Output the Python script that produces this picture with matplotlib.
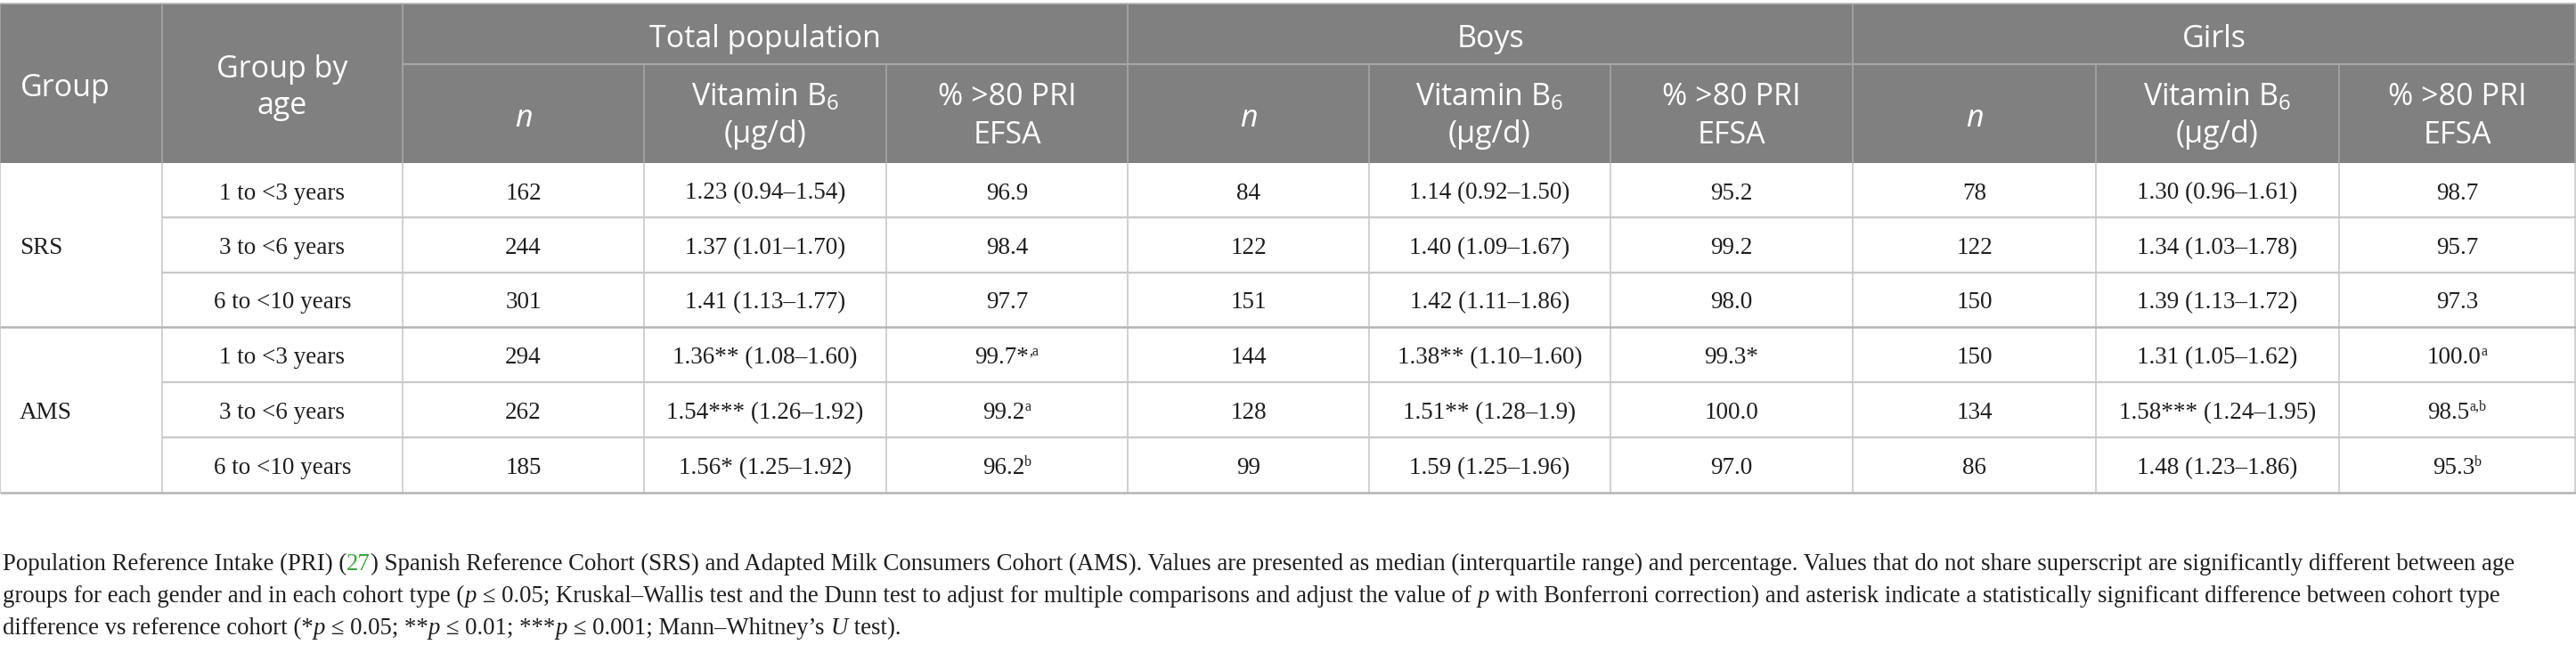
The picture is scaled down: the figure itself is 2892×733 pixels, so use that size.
import matplotlib
matplotlib.use("Agg")
import matplotlib.pyplot as plt
from matplotlib.patches import Rectangle

# Données du tableau
groups = ["SRS", "AMS"]
ages = ["1 to <3 years", "3 to <6 years", "6 to <10 years"]
sections = ["Total population", "Boys", "Girls"]

total_n = ["162", "244", "301", "294", "262", "185"]
total_vit = ["1.23 (0.94–1.54)", "1.37 (1.01–1.70)", "1.41 (1.13–1.77)",
             "1.36** (1.08–1.60)", "1.54*** (1.26–1.92)", "1.56* (1.25–1.92)"]
total_pct = ["96.9", "98.4", "97.7", "99.7*", "99.2", "96.2"]
total_sup = ["", "", "", ",a", "a", "b"]

boys_n = ["84", "122", "151", "144", "128", "99"]
boys_vit = ["1.14 (0.92–1.50)", "1.40 (1.09–1.67)", "1.42 (1.11–1.86)",
            "1.38** (1.10–1.60)", "1.51** (1.28–1.9)", "1.59 (1.25–1.96)"]
boys_pct = ["95.2", "99.2", "98.0", "99.3*", "100.0", "97.0"]
boys_sup = ["", "", "", "", "", ""]

girls_n = ["78", "122", "150", "150", "134", "86"]
girls_vit = ["1.30 (0.96–1.61)", "1.34 (1.03–1.78)", "1.39 (1.13–1.72)",
             "1.31 (1.05–1.62)", "1.58*** (1.24–1.95)", "1.48 (1.23–1.86)"]
girls_pct = ["98.7", "95.7", "97.3", "100.0", "98.5", "95.3"]
girls_sup = ["", "", "", "a", "a,b", "b"]

# Géométrie (pixels)
col_x = [0, 182, 452, 723, 995, 1266, 1537, 1808, 2080, 2353, 2626, 2891]
row_y = [4, 72, 183, 244, 306, 367, 429, 491, 553]

HEAD_BG = "#808080"
HEAD_LINE = "#a6a6a6"
BODY_LINE = "#c8c8c8"
SEP_LINE = "#b4b4b4"
TXT = "#1e1e1e"

plt.rcParams["mathtext.fontset"] = "custom"
plt.rcParams["mathtext.rm"] = "Open Sans"

head_kw = dict(family="Open Sans", fontsize=24.5, color="white")
body_kw = dict(family="Liberation Serif", fontsize=19.5, color=TXT)
sup_kw = dict(family="Liberation Serif", fontsize=11.5, color=TXT)
cap_kw = dict(family="Liberation Serif", fontsize=19.3, color=TXT)
cap_it = dict(cap_kw, style="italic")

fig = plt.figure(figsize=(28.92, 7.33), dpi=100)
ax = fig.add_axes([0, 0, 1, 1])
ax.set_xlim(0, 2892)
ax.set_ylim(733, 0)
ax.axis("off")
renderer = fig.canvas.get_renderer()


def text_width(s, kw):
    t = ax.text(0, 0, "x" + s + "x", **kw)
    w1 = t.get_window_extent(renderer).width
    t.remove()
    t = ax.text(0, 0, "xx", **kw)
    w2 = t.get_window_extent(renderer).width
    t.remove()
    return w1 - w2


def rich(x, y, parts, ha="center"):
    # parts : (texte, style, décalage vertical)
    widths = [text_width(s, kw) for s, kw, dy in parts]
    x0 = x - sum(widths) / 2 if ha == "center" else x
    for (s, kw, dy), w in zip(parts, widths):
        ax.text(x0, y + dy, s, ha="left", va="baseline", **kw)
        x0 += w


def hline(y, x0, x1, color, lw=1.2):
    ax.plot([x0, x1], [y, y], color=color, lw=lw, solid_capstyle="butt")


def vline(x, y0, y1, color, lw=1.2):
    ax.plot([x, x], [y0, y1], color=color, lw=lw, solid_capstyle="butt")


# En-tête
ax.add_patch(Rectangle((0, row_y[0]), 2892, row_y[2] - row_y[0], color=HEAD_BG, lw=0))
hline(row_y[0], 0, 2892, "#b8b8b8")
hline(row_y[1], col_x[2], 2892, HEAD_LINE, 1.6)
for i, x in enumerate(col_x):
    if i in (0, 1, 2, 5, 8, 11):
        vline(x, row_y[0], row_y[2], HEAD_LINE)
    else:
        vline(x, row_y[1], row_y[2], HEAD_LINE)

ax.text(23, 108, "Group", ha="left", va="baseline", **head_kw)
mid = (col_x[1] + col_x[2]) / 2
ax.text(mid, 87, "Group by", ha="center", va="baseline", **head_kw)
ax.text(mid, 128, "age", ha="center", va="baseline", **head_kw)

for k, name in enumerate(sections):
    x0 = col_x[2 + 3 * k]
    x1 = col_x[5 + 3 * k]
    ax.text((x0 + x1) / 2, 53, name, ha="center", va="baseline", **head_kw)
    cx = [(col_x[2 + 3 * k + j] + col_x[3 + 3 * k + j]) / 2 for j in range(3)]
    ax.text(cx[0], 142, "n", ha="center", va="baseline", style="italic", **head_kw)
    ax.text(cx[1], 118, "Vitamin B$_6$", ha="center", va="baseline", **head_kw)
    ax.text(cx[1], 160, "(μg/d)", ha="center", va="baseline", **head_kw)
    ax.text(cx[2], 118, "% >80 PRI", ha="center", va="baseline", **head_kw)
    ax.text(cx[2], 161, "EFSA", ha="center", va="baseline", **head_kw)

# Corps du tableau
for x in col_x:
    vline(x, row_y[2], row_y[8], BODY_LINE)
for r in (3, 4, 6, 7):
    hline(row_y[r], col_x[1], 2892, BODY_LINE, 1.6)
hline(row_y[5], 0, 2892, SEP_LINE, 1.8)
hline(row_y[8], 0, 2892, SEP_LINE, 1.8)

for g, name in enumerate(groups):
    yc = (row_y[2 + 3 * g] + row_y[5 + 3 * g]) / 2
    ax.text(22, yc + 10, name, ha="left", va="baseline", **body_kw)

columns = [(total_n, total_vit, total_pct, total_sup),
           (boys_n, boys_vit, boys_pct, boys_sup),
           (girls_n, girls_vit, girls_pct, girls_sup)]

for i in range(6):
    yb = (row_y[2 + i] + row_y[3 + i]) / 2 + 10
    ax.text((col_x[1] + col_x[2]) / 2, yb, ages[i % 3], ha="center", va="baseline", **body_kw)
    for k, (ns, vits, pcts, sups) in enumerate(columns):
        cx = [(col_x[2 + 3 * k + j] + col_x[3 + 3 * k + j]) / 2 for j in range(3)]
        ax.text(cx[0], yb, ns[i], ha="center", va="baseline", **body_kw)
        ax.text(cx[1], yb, vits[i], ha="center", va="baseline", **body_kw)
        parts = [(pcts[i], body_kw, 0)]
        if sups[i]:
            parts.append((sups[i], sup_kw, -9))
        rich(cx[2], yb, parts)

# Légende sous le tableau
green = dict(cap_kw, color="#3ea33e")
line1 = [("Population Reference Intake (PRI) (", cap_kw, 0), ("27", green, 0),
         (") Spanish Reference Cohort (SRS) and Adapted Milk Consumers Cohort (AMS). Values are presented as "
          "median (interquartile range) and percentage. Values that do not share superscript are significantly "
          "different between age", cap_kw, 0)]
line2 = [("groups for each gender and in each cohort type (", cap_kw, 0), ("p", cap_it, 0),
         (" ≤ 0.05; Kruskal–Wallis test and the Dunn test to adjust for multiple comparisons and adjust the value of ",
          cap_kw, 0), ("p", cap_it, 0),
         (" with Bonferroni correction) and asterisk indicate a statistically significant difference between cohort type",
          cap_kw, 0)]
line3 = [("difference vs reference cohort (*", cap_kw, 0), ("p", cap_it, 0), (" ≤ 0.05; **", cap_kw, 0),
         ("p", cap_it, 0), (" ≤ 0.01; ***", cap_kw, 0), ("p", cap_it, 0),
         (" ≤ 0.001; Mann–Whitney’s ", cap_kw, 0), ("U", cap_it, 0), (" test).", cap_kw, 0)]
rich(3, 640, line1, ha="left")
rich(3, 676, line2, ha="left")
rich(3, 712, line3, ha="left")

fig.savefig("out.png", dpi=100, facecolor="white")
